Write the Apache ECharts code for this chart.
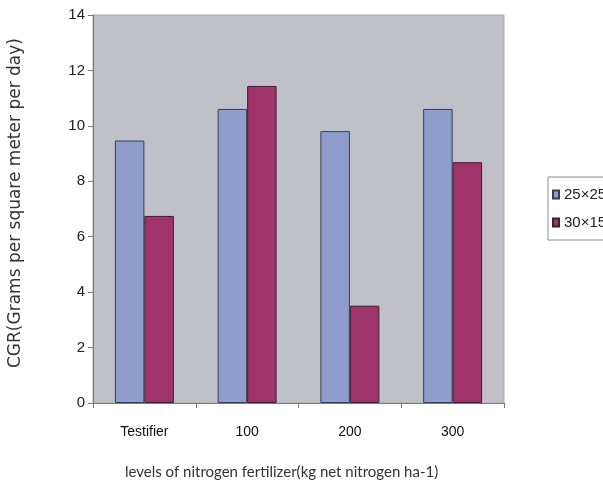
<!DOCTYPE html>
<html>
<head>
<meta charset="utf-8">
<script src="https://cdn.jsdelivr.net/npm/echarts@6/dist/echarts.min.js"></script>
<style>
  html, body { margin: 0; padding: 0; background: #fff; }
  #chart { width: 603px; height: 499px; }
</style>
</head>
<body>
<div id="chart"></div>
<script>
// Nitrogen fertilizer levels on the category axis
const categories = ['Testifier', '100', '200', '300'];
// Crop growth rate for the two planting spacings
const spacing25x25 = [9.47, 10.61, 9.81, 10.61];
const spacing30x15 = [6.75, 11.44, 3.51, 8.69];
const seriesNames = ['25×25', '30×15'];
const yTicks = [0, 2, 4, 6, 8, 10, 12, 14];
const xTitle = 'levels of nitrogen fertilizer(kg net nitrogen ha-1)';
const yTitle = 'CGR(Grams per square meter per day)';

const chart = echarts.init(document.getElementById('chart'));
chart.setOption({
  animation: false,
  backgroundColor: '#ffffff',
  grid: {
    left: 93, top: 15, right: 99, bottom: 96,
    show: true,
    backgroundColor: '#c0c1c8',
    borderColor: '#a9aab0',
    borderWidth: 1
  },
  legend: {
    orient: 'vertical',
    left: 548, top: 177,
    padding: [10, 10, 10, 4],
    icon: 'rect',
    itemWidth: 6, itemHeight: 8,
    itemGap: 13,
    borderColor: '#8a8a8a', borderWidth: 1,
    textStyle: { fontFamily: 'Liberation Sans Narrow, Liberation Sans, Arial', fontSize: 15, color: '#222' },
    data: seriesNames
  },
  graphic: [
    {
      type: 'text', left: 125, top: 465,
      style: { text: xTitle, fontFamily: 'Lato, Open Sans, sans-serif', fontSize: 15, fill: '#333' }
    },
    {
      type: 'text', x: 7, y: 368, rotation: Math.PI / 2,
      style: { text: yTitle, fontFamily: 'DejaVu Sans, sans-serif', fontSize: 17, fill: '#333',
               textAlign: 'left', textVerticalAlign: 'top' }
    }
  ],
  xAxis: {
    type: 'category',
    data: categories,
    axisLine: { lineStyle: { color: '#7a7a7a' } },
    axisTick: { show: true, alignWithLabel: false, length: 5, lineStyle: { color: '#7a7a7a' } },
    axisLabel: { margin: 22, fontFamily: 'Liberation Sans Narrow, Liberation Sans, Arial', fontSize: 14, color: '#111' }
  },
  yAxis: {
    type: 'value',
    min: yTicks[0], max: yTicks[yTicks.length - 1], interval: 2,
    splitLine: { show: false },
    axisLine: { show: true, lineStyle: { color: '#7a7a7a' } },
    axisTick: { show: true, length: 5, lineStyle: { color: '#7a7a7a' } },
    axisLabel: { margin: 8, fontFamily: 'Liberation Sans Narrow, Liberation Sans, Arial', fontSize: 15, color: '#222' }
  },
  series: [
    {
      name: seriesNames[0], type: 'bar', data: spacing25x25,
      barGap: '0%', barCategoryGap: '42.6%',
      itemStyle: { color: '#8f9dca', borderColor: '#3a3d55', borderWidth: 1 }
    },
    {
      name: seriesNames[1], type: 'bar', data: spacing30x15,
      itemStyle: { color: '#9e346a', borderColor: '#3a2030', borderWidth: 1 }
    }
  ]
});
</script>
</body>
</html>
